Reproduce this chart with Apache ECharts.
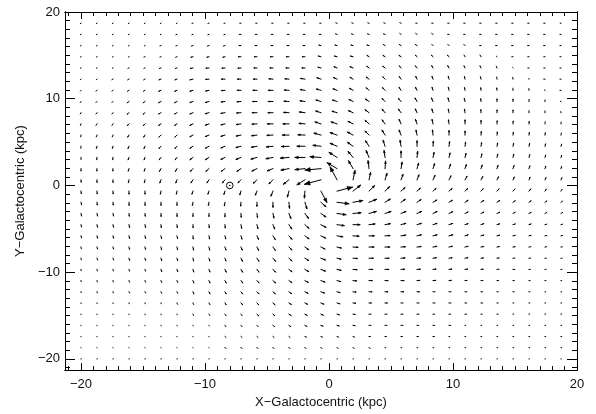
<!DOCTYPE html>
<html>
<head>
<meta charset="utf-8">
<script src="https://cdn.jsdelivr.net/npm/echarts@6/dist/echarts.min.js"></script>
<style>
  html, body { margin: 0; padding: 0; background: #ffffff; }
  #chart { width: 596px; height: 414px; }
</style>
</head>
<body>
<div id="chart"></div>
<script>
// Galactocentric grid (kpc): columns left to right, rows top to bottom
const X_GRID = [-20, -18.71, -17.42, -16.13, -14.84, -13.55, -12.26, -10.97, -9.68, -8.39, -7.10, -5.81, -4.52, -3.23, -1.94, -0.65,
                0.65, 1.94, 3.23, 4.52, 5.81, 7.10, 8.39, 9.68, 10.97, 12.26, 13.55, 14.84, 16.13, 17.42, 18.71];
const Y_GRID = [18.71, 17.42, 16.13, 14.84, 13.55, 12.26, 10.97, 9.68, 8.39, 7.10, 5.81, 4.52, 3.23, 1.94, 0.65,
                -0.65, -1.94, -3.23, -4.52, -5.81, -7.10, -8.39, -9.68, -10.97, -12.26, -13.55, -14.84, -16.13, -17.42, -18.71, -20];

// Velocity components (km/s), one row per Y_GRID entry
const VX = [
  [-4,-4,-4,-4,-4,-4,-4,-6,-6,-6,-8,-8,-8,-8,-8,-8,-8,-8,-8,-8,-8,-8,-8,-8,-8,-8,-8,-8,-8,-8,-5],
  [-4,-4,-4,-4,-4,-4,-7,-7,-7,-7,-11,-11,-11,-11,-11,-11,-11,-11,-11,-11,-9,-9,-9,-9,-9,-9,-9,-9,-9,-9,-7],
  [-4,-4,-4,-4,-4,-7,-7,-11,-11,-11,-14,-14,-14,-14,-14,-14,-14,-14,-14,-12,-12,-12,-9,-9,-9,-9,-9,-9,-9,-9,-7],
  [-4,-4,-4,-4,-7,-7,-9,-14,-14,-14,-18,-18,-18,-18,-18,-18,-18,-18,-14,-14,-14,-11,-11,-11,-7,-7,-4,-8,-8,-8,-7],
  [-4,-4,-4,-7,-7,-11,-11,-18,-21,-21,-21,-21,-21,-21,-21,-21,-21,-21,-16,-16,-12,-12,-9,-9,-7,-7,-5,-2,-8,-8,-7],
  [-4,-4,-7,-9,-9,-14,-14,-21,-23,-25,-25,-25,-28,-28,-30,-28,-25,-21,-19,-16,-12,-9,-7,-5,-4,-4,-2,-2,-1,-8,-7],
  [-4,-7,-7,-11,-11,-16,-16,-21,-23,-25,-26,-28,-32,-32,-32,-32,-28,-25,-21,-18,-14,-11,-7,-5,-4,-2,-2,-1,-1,-4,-7],
  [-5,-7,-7,-12,-12,-16,-16,-21,-25,-26,-28,-30,-33,-35,-35,-35,-32,-28,-25,-21,-18,-14,-11,-7,-5,-2,-1,0,0,0,-4],
  [-5,-7,-7,-12,-12,-16,-16,-21,-25,-28,-30,-33,-35,-37,-39,-37,-35,-32,-28,-21,-18,-12,-8,-5,-4,-1,0,0,0,0,-2],
  [-4,-7,-7,-11,-11,-16,-16,-21,-25,-28,-32,-35,-39,-42,-42,-42,-42,-35,-28,-21,-14,-11,-7,-4,0,0,1,1,1,1,1],
  [-2,-5,-5,-9,-9,-14,-14,-21,-25,-28,-33,-37,-42,-46,-49,-49,-49,-39,-28,-21,-14,-7,-4,0,0,2,2,2,2,2,2],
  [-1,-4,-4,-7,-7,-14,-14,-21,-25,-28,-35,-39,-46,-53,-56,-56,-49,-39,-25,-14,-7,0,2,4,4,4,4,4,4,4,4],
  [0,-2,-2,-6,-6,-12,-12,-21,-25,-28,-35,-42,-49,-60,-70,-77,-56,-35,-21,-7,0,4,7,7,7,6,5,5,5,4,4],
  [0,-1,-1,-5,-5,-11,-11,-18,-21,-25,-28,-35,-39,-56,-70,-112,-70,-32,-7,4,7,11,11,11,9,8,7,7,6,5,4],
  [1,0,0,-4,-4,-8,-8,-14,-14,-18,-21,-25,-28,-39,-56,-116,-49,14,11,14,14,14,14,14,14,12,11,9,7,7,6],
  [2,1,1,0,0,-4,-4,-7,-7,-7,-8,-11,-14,-11,-4,42,109,53,39,32,28,23,21,21,18,15,14,13,11,9,7],
  [4,2,2,1,1,0,0,-4,-4,-4,-2,0,0,4,14,35,84,68,53,37,30,28,26,23,21,19,18,15,14,12,11],
  [4,4,4,2,2,1,1,0,0,0,2,4,7,14,25,35,63,56,51,42,35,32,28,25,21,19,18,15,14,12,11],
  [4,4,4,4,4,2,2,1,2,2,5,7,12,20,28,35,51,49,42,37,33,30,28,25,21,19,18,15,14,12,11],
  [4,4,4,4,4,4,4,2,4,5,7,11,16,21,28,33,40,42,37,35,33,30,28,26,21,19,18,15,14,12,11],
  [2,4,4,4,4,4,4,4,5,7,9,12,16,21,26,28,30,35,35,33,30,28,26,23,21,19,16,14,13,11,9],
  [2,4,4,4,4,5,5,4,6,7,11,14,18,21,26,32,28,30,30,28,28,26,23,21,19,16,14,12,11,9,7],
  [1,2,2,4,4,5,5,5,7,9,12,14,18,21,26,32,28,28,26,26,25,23,21,19,18,15,14,12,9,7,6],
  [1,2,2,4,4,5,5,6,7,9,12,14,18,20,23,28,25,25,23,21,21,19,18,16,14,13,11,9,7,6,4],
  [1,2,2,4,4,5,5,6,7,9,11,14,16,18,21,25,21,21,20,19,18,16,14,14,12,11,8,7,6,4,4],
  [1,1,1,2,2,2,4,5,7,8,11,12,14,16,18,20,19,18,16,16,14,14,13,13,11,11,7,5,5,4,4],
  [1,1,1,1,2,2,2,4,6,7,8,11,12,14,15,16,16,15,14,14,13,13,11,11,11,7,7,4,4,4,4],
  [1,1,1,1,1,2,2,2,2,6,7,8,11,12,13,14,14,14,13,13,13,11,11,11,4,4,4,4,4,4,4],
  [1,1,1,1,1,1,1,1,1,7,7,7,7,7,11,11,11,11,9,9,9,9,9,4,4,4,4,4,4,4,4],
  [1,1,1,1,1,1,1,1,1,7,7,7,7,7,7,7,7,7,7,4,4,4,4,4,4,4,4,4,4,4,4],
  [2,2,2,2,2,2,2,2,2,2,2,2,2,2,2,2,2,2,2,2,2,2,2,2,2,2,2,2,2,2,2]
];
const VY = [
  [-3,-3,-3,-3,-3,-3,-3,-2,-2,-2,0,0,0,0,0,0,3,3,3,3,5,0,0,0,0,0,0,0,0,0,0],
  [-3,-3,-3,-3,-3,-3,-3,-3,-3,-3,0,0,0,0,0,0,5,5,5,5,10,10,10,0,0,0,0,0,0,0,0],
  [-3,-3,-3,-3,-3,-3,-3,-5,-5,-5,0,0,0,0,0,5,5,5,5,10,10,10,13,13,13,0,0,0,0,0,0],
  [-3,-3,-3,-3,-3,-3,-5,-5,-5,-5,0,0,0,0,0,7,7,7,13,13,13,15,15,15,17,17,5,0,0,0,0],
  [-3,-3,-3,-5,-5,-5,-5,-5,-3,-3,-3,0,0,0,0,7,12,12,17,17,20,20,22,22,20,20,17,3,0,0,0],
  [-5,-5,-5,-7,-7,-7,-7,-7,-3,0,0,0,3,3,7,13,15,18,20,23,25,27,27,27,25,23,20,17,5,0,0],
  [-7,-7,-7,-10,-10,-10,-10,-10,-7,-3,0,0,0,3,7,13,15,20,25,27,30,30,30,30,27,25,23,20,17,3,0],
  [-10,-10,-10,-12,-12,-12,-12,-10,-10,-5,-3,0,0,3,7,15,15,20,25,30,30,35,35,35,30,27,25,23,20,15,3],
  [-12,-13,-13,-15,-15,-13,-13,-13,-10,-7,-3,0,0,3,7,17,15,20,30,35,35,37,37,35,35,30,27,25,20,17,10],
  [-15,-15,-15,-17,-17,-15,-15,-15,-13,-10,-7,-3,0,0,5,20,20,25,35,40,45,45,45,40,40,35,30,27,23,20,17],
  [-17,-18,-18,-20,-20,-20,-20,-17,-15,-13,-10,-7,-3,0,3,20,25,30,40,50,50,50,50,45,40,35,30,27,25,22,20],
  [-20,-20,-20,-22,-22,-22,-22,-20,-20,-17,-13,-10,-7,-3,0,10,30,40,55,60,60,55,50,45,40,35,32,30,27,23,20],
  [-20,-22,-22,-23,-23,-23,-23,-23,-23,-20,-20,-17,-13,-7,0,7,50,60,70,70,65,60,50,45,40,35,32,30,27,23,20],
  [-22,-23,-23,-25,-25,-27,-27,-27,-27,-27,-27,-25,-23,-15,-10,-15,60,80,80,75,65,55,50,45,40,35,32,30,27,23,20],
  [-23,-25,-25,-27,-27,-30,-30,-30,-30,-30,-30,-35,-40,-45,-50,-45,130,95,75,65,55,50,45,40,35,32,30,27,25,22,20],
  [-25,-27,-27,-30,-30,-30,-30,-30,-30,-33,-37,-40,-50,-60,-70,-115,40,60,55,45,35,28,27,25,25,23,22,20,20,18,17],
  [-25,-27,-27,-30,-30,-30,-30,-30,-30,-35,-37,-40,-50,-60,-65,-45,-15,17,30,33,30,27,23,20,20,18,17,15,15,13,12],
  [-25,-25,-25,-27,-27,-30,-30,-30,-30,-33,-37,-40,-45,-50,-50,-35,-13,7,20,20,20,20,20,17,15,13,12,12,10,10,10],
  [-23,-25,-25,-27,-27,-28,-28,-30,-30,-33,-37,-40,-43,-43,-37,-27,-10,0,7,10,13,13,13,12,10,10,8,7,7,5,5],
  [-20,-23,-23,-25,-25,-27,-27,-30,-30,-30,-33,-35,-37,-35,-30,-23,-10,-3,0,3,7,10,10,10,10,8,7,5,5,3,3],
  [-17,-20,-20,-22,-22,-25,-25,-30,-30,-30,-30,-33,-33,-30,-27,-20,-10,-3,0,0,3,5,7,7,7,5,5,3,3,3,2],
  [-15,-17,-17,-20,-20,-23,-23,-27,-27,-27,-30,-30,-30,-27,-23,-18,-10,-3,0,0,3,3,5,5,5,3,3,2,2,0,0],
  [-12,-15,-15,-17,-17,-20,-20,-25,-25,-27,-27,-27,-27,-23,-22,-17,-10,-3,0,0,2,2,3,3,3,2,2,0,0,0,0],
  [-10,-12,-12,-15,-15,-18,-18,-23,-23,-23,-23,-23,-23,-20,-18,-15,-10,-3,0,0,0,2,2,2,2,0,0,0,0,0,0],
  [-8,-10,-10,-12,-12,-15,-15,-20,-20,-20,-20,-20,-20,-18,-15,-13,-8,-3,0,0,0,0,0,0,0,0,0,0,0,0,0],
  [-5,-5,-5,-7,-7,-7,-12,-15,-17,-17,-17,-17,-17,-15,-13,-12,-8,-3,0,0,0,0,0,0,0,0,0,0,0,0,0],
  [-4,-4,-4,-4,-6,-6,-6,-12,-13,-15,-15,-15,-15,-13,-12,-10,-7,-3,0,0,0,0,0,0,0,0,0,0,0,0,0],
  [-3,-3,-3,-3,-3,-5,-5,-5,-5,-12,-12,-12,-12,-12,-10,-8,-6,-3,0,0,0,0,0,0,0,0,0,0,0,0,0],
  [-3,-3,-3,-3,-3,-3,-3,-3,-3,-8,-8,-8,-8,-8,-6,-6,-6,-6,0,0,0,0,0,0,0,0,0,0,0,0,0],
  [-2,-2,-2,-2,-2,-2,-2,-2,-2,-5,-5,-5,-5,-5,-5,-5,-5,-5,-5,0,0,0,0,0,0,0,0,0,0,0,0],
  [0,0,0,0,0,0,0,0,0,0,0,0,0,0,0,0,0,0,0,0,0,0,0,0,0,0,0,0,0,0,0]
];

// Solar position (kpc)
const SUN = [-8, 0];

// Axis extents and tick values (kpc)
const X_RANGE = [-21.29, 20];
const Y_RANGE = [-21.29, 20];
const MAJOR_TICKS = [-20, -10, 0, 10, 20];
const MINOR_TICKS = [-21, -19, -18, -17, -16, -15, -14, -13, -12, -11, -9, -8, -7, -6, -5, -4, -3, -2, -1,
                     1, 2, 3, 4, 5, 6, 7, 8, 9, 11, 12, 13, 14, 15, 16, 17, 18, 19];

// Arrow length per km/s, in kpc
const SCALE = 0.0114;

const vectors = [];
Y_GRID.forEach((y, r) => {
  X_GRID.forEach((x, c) => {
    vectors.push([x, y, VX[r][c], VY[r][c]]);
  });
});

const FONT = 'Liberation Sans, Arial, Helvetica, sans-serif';
const INK = '#000000';
const fmt = v => String(v).replace('-', '\u2212');

function xAxisDef(position, values, len, labels) {
  return {
    type: 'value', position, min: X_RANGE[0], max: X_RANGE[1],
    axisLine: { show: true, onZero: false, lineStyle: { color: INK, width: 1 } },
    axisTick: { show: true, inside: true, length: len, customValues: values, lineStyle: { color: INK, width: 1 } },
    axisLabel: labels ? { show: true, customValues: MAJOR_TICKS, formatter: fmt, margin: 8,
                          color: '#111', fontFamily: FONT, fontSize: 13 } : { show: false },
    splitLine: { show: false }
  };
}
function yAxisDef(position, values, len, labels) {
  return {
    type: 'value', position, min: Y_RANGE[0], max: Y_RANGE[1],
    axisLine: { show: true, onZero: false, lineStyle: { color: INK, width: 1 } },
    axisTick: { show: true, inside: true, length: len, customValues: values, lineStyle: { color: INK, width: 1 } },
    axisLabel: labels ? { show: true, customValues: MAJOR_TICKS, formatter: fmt, margin: 5,
                          color: '#111', fontFamily: FONT, fontSize: 13 } : { show: false },
    splitLine: { show: false }
  };
}

const xAxes = [
  xAxisDef('bottom', MAJOR_TICKS, 7, true),
  xAxisDef('bottom', MINOR_TICKS, 4, false),
  xAxisDef('top', MAJOR_TICKS, 7, false),
  xAxisDef('top', MINOR_TICKS, 4, false)
];
Object.assign(xAxes[0], {
  name: 'X\u2212Galactocentric (kpc)', nameLocation: 'middle', nameGap: 24,
  nameTextStyle: { color: '#111', fontFamily: FONT, fontSize: 13 }
});
const yAxes = [
  yAxisDef('left', MAJOR_TICKS, 10, true),
  yAxisDef('left', MINOR_TICKS, 5, false),
  yAxisDef('right', MAJOR_TICKS, 10, false),
  yAxisDef('right', MINOR_TICKS, 5, false)
];
Object.assign(yAxes[0], {
  name: 'Y\u2212Galactocentric (kpc)', nameLocation: 'middle', nameGap: 38, nameRotate: 90,
  nameTextStyle: { color: '#111', fontFamily: FONT, fontSize: 13 }
});

function renderArrow(params, api) {
  const x = api.value(0), y = api.value(1);
  const vx = api.value(2), vy = api.value(3);
  const p0 = api.coord([x, y]);
  const p1 = api.coord([x + vx * SCALE, y + vy * SCALE]);
  const dx = p1[0] - p0[0], dy = p1[1] - p0[1];
  const len = Math.hypot(dx, dy);
  const children = [{
    type: 'line',
    shape: { x1: p0[0], y1: p0[1], x2: p1[0], y2: p1[1] },
    style: { stroke: INK, lineWidth: 1, lineCap: 'square' }
  }];
  if (len > 2) {
    const ux = dx / len, uy = dy / len;
    const hl = len * 0.32;
    const hw = hl * Math.tan(22 * Math.PI / 180);
    const bx = p1[0] - hl * ux, by = p1[1] - hl * uy;
    children.push({
      type: 'polygon',
      shape: { points: [[p1[0], p1[1]], [bx - hw * uy, by + hw * ux], [bx + hw * uy, by - hw * ux]] },
      style: { fill: INK, stroke: INK, lineWidth: 0.6 }
    });
  }
  return { type: 'group', children };
}

function renderSun(params, api) {
  const p = api.coord([api.value(0), api.value(1)]);
  return {
    type: 'group',
    children: [
      { type: 'circle', shape: { cx: p[0], cy: p[1], r: 3.3 }, style: { fill: 'none', stroke: INK, lineWidth: 1 } },
      { type: 'circle', shape: { cx: p[0], cy: p[1], r: 0.8 }, style: { fill: INK } }
    ]
  };
}

const chart = echarts.init(document.getElementById('chart'), null, { renderer: 'canvas', devicePixelRatio: 1 });
chart.setOption({
  animation: false,
  backgroundColor: '#ffffff',
  grid: { left: 65, right: 19, top: 12, bottom: 40, containLabel: false },
  xAxis: xAxes,
  yAxis: yAxes,
  series: [
    { type: 'custom', xAxisIndex: 0, yAxisIndex: 0, data: vectors, renderItem: renderArrow, silent: true, clip: false },
    { type: 'custom', xAxisIndex: 0, yAxisIndex: 0, data: [SUN], renderItem: renderSun, silent: true }
  ]
});
</script>
</body>
</html>
